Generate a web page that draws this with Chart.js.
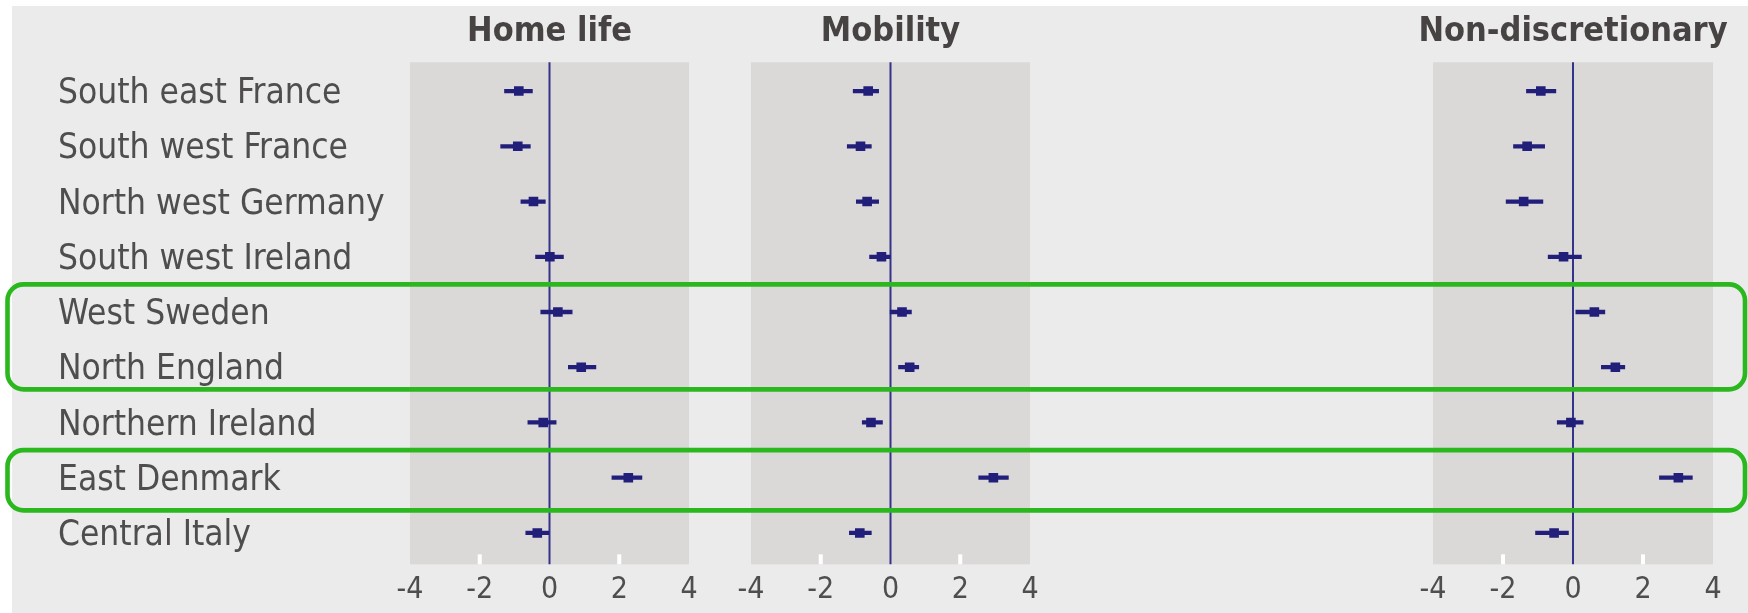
<!DOCTYPE html>
<html>
<head>
<meta charset="utf-8">
<title>Regional differences: home life, mobility, non-discretionary</title>
<script src="https://cdn.jsdelivr.net/npm/chart.js@4.4.1/dist/chart.umd.min.js"></script>
<style>
  html, body { margin: 0; padding: 0; background: #ffffff; }
  #wrap { width: 1748px; height: 613px; }
  canvas { display: block; }
</style>
</head>
<body>
<div id="wrap"><canvas id="forest" width="1748" height="613"></canvas></div>
<script>
// Regions, top to bottom
const regions = [
  'South east France', 'South west France', 'North west Germany', 'South west Ireland',
  'West Sweden', 'North England', 'Northern Ireland', 'East Denmark', 'Central Italy'
];

// Home life: estimate with lower / upper interval
const homeEst = [-0.88, -0.91, -0.46, 0.01, 0.24, 0.91, -0.18, 2.26, -0.35];
const homeLo  = [-1.29, -1.40, -0.82, -0.40, -0.25, 0.54, -0.62, 1.79, -0.68];
const homeHi  = [-0.49, -0.55, -0.12, 0.40, 0.65, 1.33, 0.19, 2.65, -0.02];

// Mobility
const mobEst = [-0.64, -0.86, -0.67, -0.26, 0.33, 0.55, -0.56, 2.95, -0.88];
const mobLo  = [-1.07, -1.24, -0.98, -0.60, -0.01, 0.23, -0.81, 2.53, -1.18];
const mobHi  = [-0.34, -0.55, -0.34, -0.01, 0.60, 0.81, -0.23, 3.38, -0.55];

// Non-discretionary
const nonEst = [-0.92, -1.31, -1.41, -0.27, 0.61, 1.21, -0.06, 3.01, -0.54];
const nonLo  = [-1.33, -1.70, -1.91, -0.71, 0.08, 0.81, -0.45, 2.47, -1.07];
const nonHi  = [-0.49, -0.81, -0.86, 0.24, 0.91, 1.48, 0.29, 3.41, -0.13];

const panelTitles = ['Home life', 'Mobility', 'Non-discretionary'];
const xTickValues = [-4, -2, 0, 2, 4];
const markedTicks = [-2, 2];
const highlightGroups = [['West Sweden', 'North England'], ['East Denmark']];

// ---- styling ----
const NAVY = '#211f7a';
const ZERO_LINE = '#34338a';
const PANEL_FILL = '#dbd8d8';
const PAGE_FILL = '#ebebeb';
const TEXT = '#4f4d4d';
const TITLE = '#474343';
const GREEN = '#2bb81f';
const FONT = "'DejaVu Sans Condensed', 'DejaVu Sans', sans-serif";

const panelIds = ['x1', 'x2', 'x3'];
const panels = [
  { est: homeEst, lo: homeLo, hi: homeHi },
  { est: mobEst, lo: mobLo, hi: mobHi },
  { est: nonEst, lo: nonLo, hi: nonHi }
];

const datasets = [];
panels.forEach((p, k) => {
  datasets.push({
    type: 'bar',
    label: panelTitles[k] + ' interval',
    indexAxis: 'y',
    data: p.lo.map((l, i) => [l, p.hi[i]]),
    xAxisID: panelIds[k],
    yAxisID: 'y',
    backgroundColor: NAVY,
    borderWidth: 0,
    barThickness: 3.6,
    grouped: false
  });
  datasets.push({
    type: 'line',
    label: panelTitles[k],
    indexAxis: 'y',
    data: p.est,
    xAxisID: panelIds[k],
    yAxisID: 'y',
    showLine: false,
    pointStyle: 'rect',
    pointRadius: 6.8,
    pointHoverRadius: 6.8,
    pointBackgroundColor: NAVY,
    pointBorderWidth: 0
  });
});

function panelAxis(weight) {
  return {
    type: 'linear',
    axis: 'x',
    position: 'bottom',
    stack: 'panels',
    stackWeight: weight,
    min: -4,
    max: 4,
    afterBuildTicks(s) { s.ticks = xTickValues.map(v => ({ value: v })); },
    afterFit(s) { s.height = 52.4; },
    grid: { display: false, drawTicks: false },
    border: { display: false },
    ticks: { color: TEXT, padding: 12, font: { family: FONT, size: 30 } }
  };
}
function spacerAxis(weight) {
  return { type: 'linear', axis: 'x', position: 'bottom', stack: 'panels', stackWeight: weight, display: false };
}

// Page background, grey panels, zero lines, white tick marks and titles
const panelBackdrop = {
  id: 'panelBackdrop',
  beforeDraw(chart) {
    const { ctx, chartArea } = chart;
    ctx.save();
    ctx.fillStyle = '#ffffff';
    ctx.fillRect(0, 0, chart.width, chart.height);
    ctx.fillStyle = PAGE_FILL;
    ctx.fillRect(12, 6, chart.width - 12, chart.height - 6);
    const top = chartArea.top - 1.1;
    const bottom = chartArea.bottom + 3.7;
    panelIds.forEach((id, k) => {
      const s = chart.scales[id];
      ctx.fillStyle = PANEL_FILL;
      ctx.fillRect(s.left, top, s.right - s.left, bottom - top);
      ctx.fillStyle = '#ffffff';
      markedTicks.forEach(v => {
        const x = s.getPixelForValue(v);
        ctx.fillRect(x - 2, bottom - 10, 4, 10);
      });
      const x0 = s.getPixelForValue(0);
      ctx.strokeStyle = ZERO_LINE;
      ctx.lineWidth = 2;
      ctx.beginPath();
      ctx.moveTo(x0, top);
      ctx.lineTo(x0, bottom);
      ctx.stroke();
      ctx.fillStyle = TITLE;
      ctx.font = "bold 34px " + FONT;
      ctx.textAlign = 'center';
      ctx.textBaseline = 'middle';
      ctx.fillText(panelTitles[k], (s.left + s.right) / 2, 32);
    });
    ctx.restore();
  }
};

// Green outlines around the highlighted regions
const highlightFrames = {
  id: 'highlightFrames',
  afterDraw(chart, args, opts) {
    const { ctx } = chart;
    const y = chart.scales.y;
    const step = y.getPixelForValue(1) - y.getPixelForValue(0);
    ctx.save();
    ctx.strokeStyle = GREEN;
    ctx.lineWidth = 4.6;
    highlightGroups.forEach((g, k) => {
      const first = regions.indexOf(g[0]);
      const last = regions.indexOf(g[g.length - 1]);
      const adj = opts.bottomAdjust[k] || 0;
      const top = y.getPixelForValue(first) - step / 2;
      const bottom = y.getPixelForValue(last) + step / 2 + adj;
      ctx.beginPath();
      ctx.roundRect(7.5, top, chart.width - 10.5, bottom - top, 16);
      ctx.stroke();
    });
    ctx.restore();
  }
};

new Chart(document.getElementById('forest'), {
  type: 'bar',
  data: { labels: regions, datasets },
  plugins: [panelBackdrop, highlightFrames],
  options: {
    indexAxis: 'y',
    responsive: false,
    devicePixelRatio: 1,
    animation: false,
    events: [],
    layout: { padding: { left: 58, right: 35, top: 63.4, bottom: 0 } },
    plugins: {
      legend: { display: false },
      tooltip: { enabled: false },
      highlightFrames: { bottomAdjust: [-5.5, 5] }
    },
    scales: {
      y: {
        type: 'category',
        position: 'left',
        offset: true,
        grid: { display: false, drawTicks: false },
        border: { display: false },
        afterFit(s) { s.width = 352; },
        ticks: { crossAlign: 'far', padding: 0, labelOffset: 3, color: TEXT, font: { family: FONT, size: 35 } }
      },
      x1: panelAxis(279),
      gapA: spacerAxis(62),
      x2: panelAxis(279),
      gapB: spacerAxis(403),
      x3: panelAxis(280)
    }
  }
});
</script>
</body>
</html>
